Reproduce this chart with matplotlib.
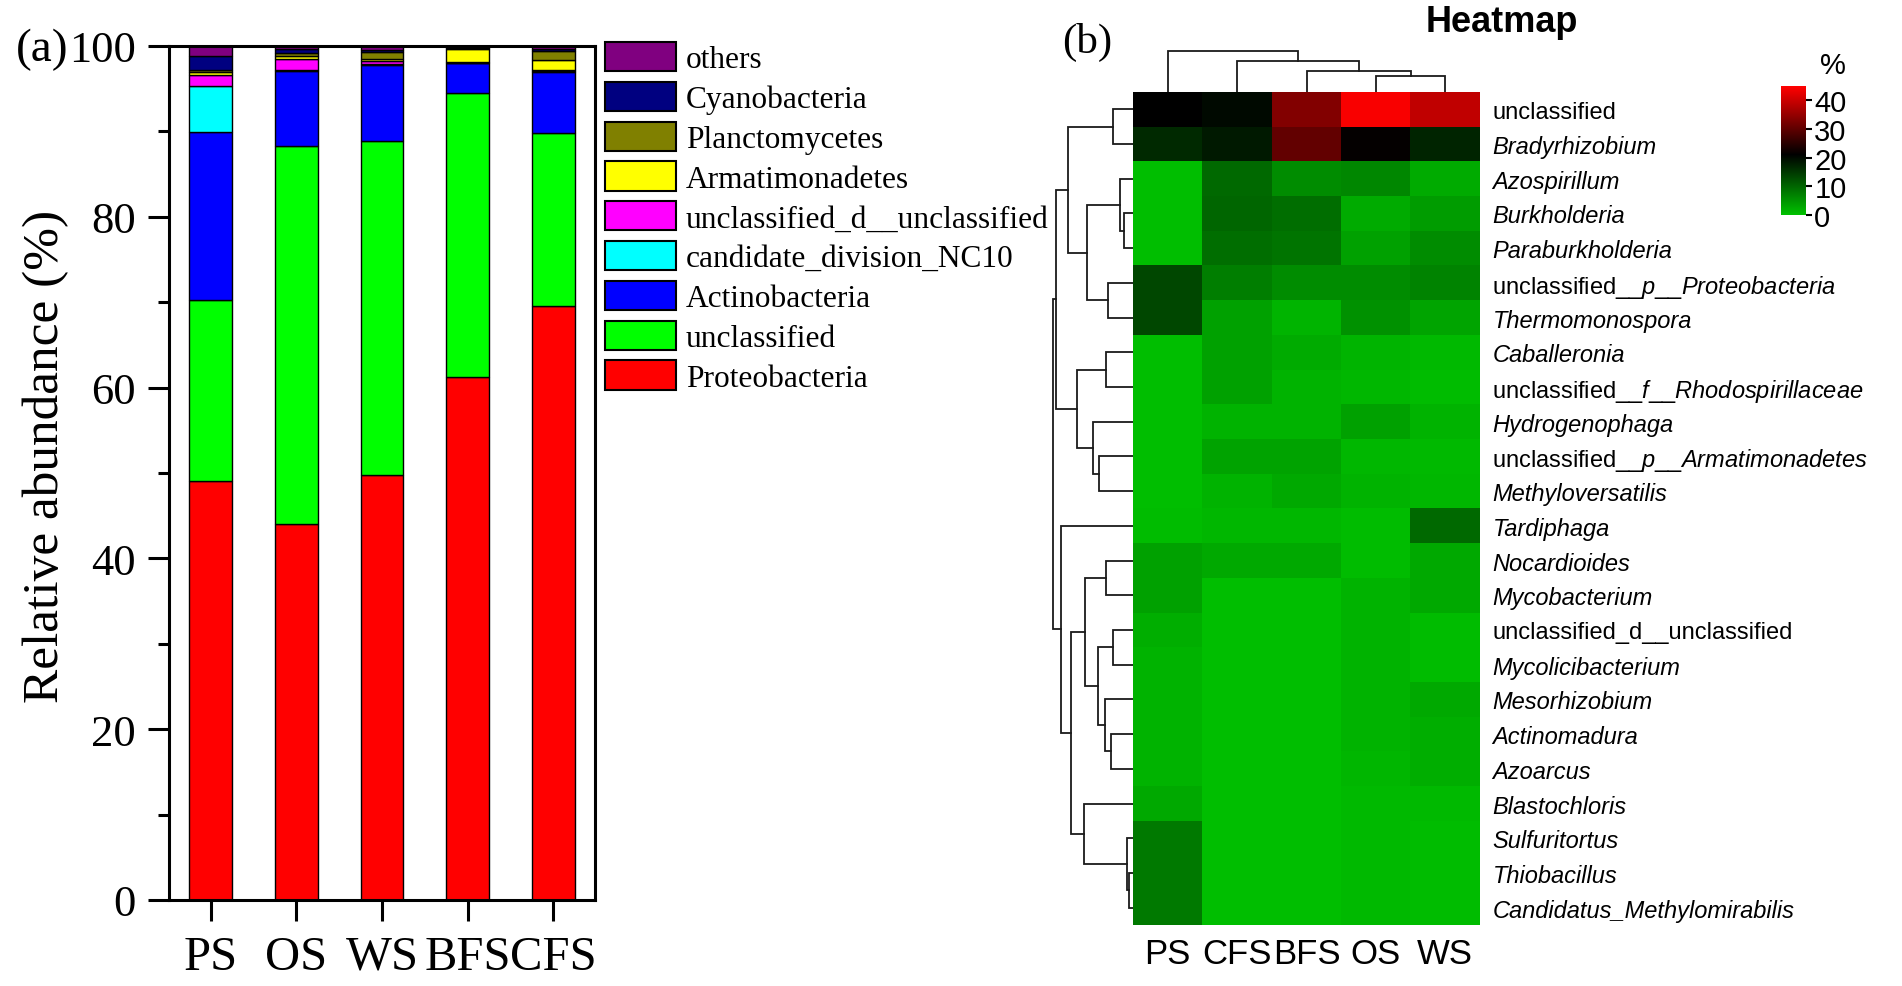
import matplotlib
matplotlib.use("Agg")
import matplotlib.pyplot as plt
import numpy as np
from matplotlib.colors import LinearSegmentedColormap
from matplotlib.patches import Patch

plt.rcParams["mathtext.fontset"] = "custom"
plt.rcParams["mathtext.rm"] = "Liberation Sans"
plt.rcParams["mathtext.it"] = "Liberation Sans:italic"

# ---- panel (a): stacked phylum abundance ----
samples_a = ["PS", "OS", "WS", "BFS", "CFS"]
phyla = ["Proteobacteria", "unclassified", "Actinobacteria", "candidate_division_NC10",
         "unclassified_d__unclassified", "Armatimonadetes", "Planctomycetes",
         "Cyanobacteria", "others"]
proteobacteria = [49.1, 44.0, 49.8, 61.2, 69.6]
unclassified = [21.2, 44.3, 39.1, 33.3, 20.2]
actinobacteria = [19.6, 8.8, 8.9, 3.5, 7.2]
nc10 = [5.4, 0.1, 0.1, 0.0, 0.1]
uncl_d = [1.3, 1.3, 0.4, 0.1, 0.1]
armatimonadetes = [0.3, 0.3, 0.2, 1.5, 1.2]
planctomycetes = [0.3, 0.4, 0.8, 0.2, 1.0]
cyanobacteria = [1.6, 0.5, 0.2, 0.1, 0.2]
others = [1.2, 0.3, 0.5, 0.1, 0.4]
phylum_colors = ["#ff0000", "#00ff00", "#0000ff", "#00ffff", "#ff00ff",
                 "#ffff00", "#808000", "#000080", "#800080"]

# ---- panel (b): genus heatmap ----
samples_b = ["PS", "CFS", "BFS", "OS", "WS"]
genera = ["unclassified", "Bradyrhizobium", "Azospirillum", "Burkholderia",
          "Paraburkholderia", "unclassified__$p$__$Proteobacteria$", "Thermomonospora",
          "Caballeronia", "unclassified__$f$__$Rhodospirillaceae$", "Hydrogenophaga",
          "unclassified__$p$__$Armatimonadetes$", "Methyloversatilis", "Tardiphaga",
          "Nocardioides", "Mycobacterium", "unclassified_d__unclassified",
          "Mycolicibacterium", "Mesorhizobium", "Actinomadura", "Azoarcus",
          "Blastochloris", "Sulfuritortus", "Thiobacillus", "Candidatus_Methylomirabilis"]
ps = [21.2, 16.6, 0.2, 0.3, 0.3, 13.3, 13.3, 0.3, 0.3, 0.3, 0.3, 0.3, 0.5,
      3.5, 3.5, 2.0, 1.5, 1.5, 1.5, 1.5, 2.5, 7.8, 7.8, 7.8]
cfs = [20.2, 18.3, 9.5, 10.0, 9.0, 7.3, 3.5, 3.5, 3.5, 1.5, 3.3, 1.5, 1.0,
       2.5, 0.3, 0.3, 0.3, 0.3, 0.3, 0.3, 0.3, 0.3, 0.3, 0.3]
bfs = [33.3, 30.4, 5.7, 9.0, 8.4, 5.7, 1.3, 2.4, 1.5, 1.5, 3.3, 2.5, 1.0,
       2.5, 0.3, 0.3, 0.3, 0.3, 0.3, 0.3, 0.3, 0.3, 0.3, 0.3]
os_ = [44.3, 21.5, 6.2, 2.4, 3.5, 5.7, 5.1, 1.3, 1.0, 3.5, 1.0, 1.5, 0.5,
       0.5, 1.5, 1.5, 1.5, 1.5, 1.5, 1.2, 0.8, 0.8, 0.8, 0.8]
ws = [39.1, 17.2, 2.4, 4.0, 5.7, 6.8, 3.0, 0.8, 0.5, 1.5, 0.8, 1.0, 9.5,
      2.5, 2.5, 0.5, 0.5, 2.5, 2.0, 2.0, 0.8, 0.5, 0.5, 0.5]

# dendrogram merges (left id, right id, height), new cluster ids continue after leaves
row_merges = [(0, 1, 20), (3, 4, 9), (2, 25, 13), (5, 6, 24), (26, 27, 45),
              (24, 28, 64), (7, 8, 26), (10, 11, 33), (9, 31, 39), (30, 32, 55),
              (29, 33, 75), (13, 14, 26), (15, 16, 20), (18, 19, 22), (17, 37, 27),
              (36, 38, 34), (35, 39, 47), (22, 23, 4), (21, 41, 6), (20, 42, 48),
              (40, 43, 61), (12, 44, 70), (34, 45, 78)]
col_merges = [(3, 4, 16), (2, 5, 21), (1, 6, 31), (0, 7, 41)]


def dendro_lines(n, merges):
    pos = list(np.arange(n, dtype=float))
    hgt = [0.0] * n
    lines = []
    for a, b, h in merges:
        lines.append(([pos[a], pos[a], pos[b], pos[b]], [hgt[a], h, h, hgt[b]]))
        pos.append((pos[a] + pos[b]) / 2)
        hgt.append(h)
    return lines


W, H = 1902, 987
fig = plt.figure(figsize=(W / 100, H / 100), dpi=100)


def px_axes(left, top, right, bottom):
    return fig.add_axes([left / W, 1 - bottom / H, (right - left) / W, (bottom - top) / H])


# ---------- (a) ----------
serif = "Liberation Serif"
ax = px_axes(169, 47, 595, 901)
stack = [proteobacteria, unclassified, actinobacteria, nc10, uncl_d,
         armatimonadetes, planctomycetes, cyanobacteria, others]
x = np.arange(len(samples_a))
bottom = np.zeros(len(samples_a))
handles = []
for vals, name, col in zip(stack, phyla, phylum_colors):
    ax.bar(x, vals, 0.5, bottom=bottom, color=col, edgecolor="black", linewidth=1.0)
    bottom += np.array(vals)
    handles.append(Patch(facecolor=col, edgecolor="black", linewidth=1.5, label=name))

ax.set_xlim(-0.485, 4.485)
ax.set_ylim(0, 100)
ax.set_xticks(x)
ax.set_xticklabels(samples_a, fontfamily=serif, fontsize=35)
ax.set_yticks(np.arange(0, 101, 20))
ax.set_yticks(np.arange(10, 100, 20), minor=True)
ax.set_yticklabels([str(v) for v in range(0, 101, 20)], fontfamily=serif, fontsize=32)
ax.tick_params(axis="both", which="major", direction="out", length=15, width=2.2)
ax.tick_params(axis="x", pad=10)
ax.tick_params(axis="y", pad=9)
ax.tick_params(axis="y", which="minor", direction="out", length=8, width=2.2)
for s in ax.spines.values():
    s.set_linewidth(2.2)
ax.set_ylabel("Relative abundance (%)", fontfamily=serif, fontsize=37)
ax.yaxis.set_label_coords(-0.235, 0.52)

fig.legend(handles[::-1], phyla[::-1], loc="upper left",
           bbox_to_anchor=(605 / W, 1 - 43 / H), frameon=False,
           prop={"family": serif, "size": 22.6}, handlelength=2.25, handleheight=1.05,
           labelspacing=0.24, handletextpad=0.33, borderaxespad=0, borderpad=0)

# "(a)" sits right against the "100" tick label
fig.canvas.draw()
top_label = ax.get_yticklabels()[-1].get_window_extent()
fig.text(top_label.x0 / W, 1 - 50 / H, "(a)", fontfamily=serif, fontsize=34,
         va="center", ha="right")

# ---------- (b) ----------
sans = "Liberation Sans"
cmap = LinearSegmentedColormap.from_list(
    "gbr", [(0.0, "#00c000"), (0.47, "#000000"), (1.0, "#ff0000")])
data = np.array([ps, cfs, bfs, os_, ws]).T

axh = px_axes(1133, 93, 1480, 926)
im = axh.imshow(data, aspect="auto", cmap=cmap, vmin=0, vmax=45, interpolation="nearest")
axh.yaxis.tick_right()
axh.set_xticks(np.arange(len(samples_b)))
axh.set_xticklabels(samples_b, fontfamily=sans, fontsize=25)
axh.set_yticks(np.arange(len(genera)))
axh.set_yticklabels(genera, fontfamily=sans, fontsize=17)
for tick, g in zip(axh.yaxis.get_major_ticks(), genera):
    if not g.startswith("unclassified"):
        tick.label1.set_fontstyle("italic")
        tick.label2.set_fontstyle("italic")
axh.tick_params(axis="both", length=0)
axh.tick_params(axis="y", pad=9)
axh.tick_params(axis="x", pad=9)
for s in axh.spines.values():
    s.set_visible(False)

# row dendrogram
axr = px_axes(1040, 93, 1133, 926)
for xs, hs in dendro_lines(len(genera), row_merges):
    axr.plot(hs, xs, color="#1a1a1a", linewidth=1.3, solid_joinstyle="miter")
axr.set_xlim(91, 0)
axr.set_ylim(len(genera) - 0.5, -0.5)
axr.axis("off")

# column dendrogram
axc = px_axes(1133, 48, 1480, 93)
for xs, hs in dendro_lines(len(samples_b), col_merges):
    axc.plot(xs, hs, color="#1a1a1a", linewidth=1.3, solid_joinstyle="miter")
axc.set_xlim(-0.5, len(samples_b) - 0.5)
axc.set_ylim(0, 45)
axc.axis("off")

# colour bar
cax = px_axes(1781, 87, 1806, 216)
cb = fig.colorbar(im, cax=cax, ticks=[0, 10, 20, 30, 40])
cb.outline.set_visible(False)
cax.tick_params(labelsize=21, length=4, width=1.5, pad=2)
for t in cax.get_yticklabels():
    t.set_fontfamily(sans)
fig.text(1833 / W, 1 - 66 / H, "%", fontfamily=sans, fontsize=21, ha="center", va="center")

fig.text(1502 / W, 1 - 22 / H, "Heatmap", fontfamily=sans, fontsize=26,
         fontweight="bold", ha="center", va="center")
fig.text(1062 / W, 1 - 42 / H, "(b)", fontfamily=serif, fontsize=31, ha="left", va="center")

fig.savefig("out.png", dpi=100)
